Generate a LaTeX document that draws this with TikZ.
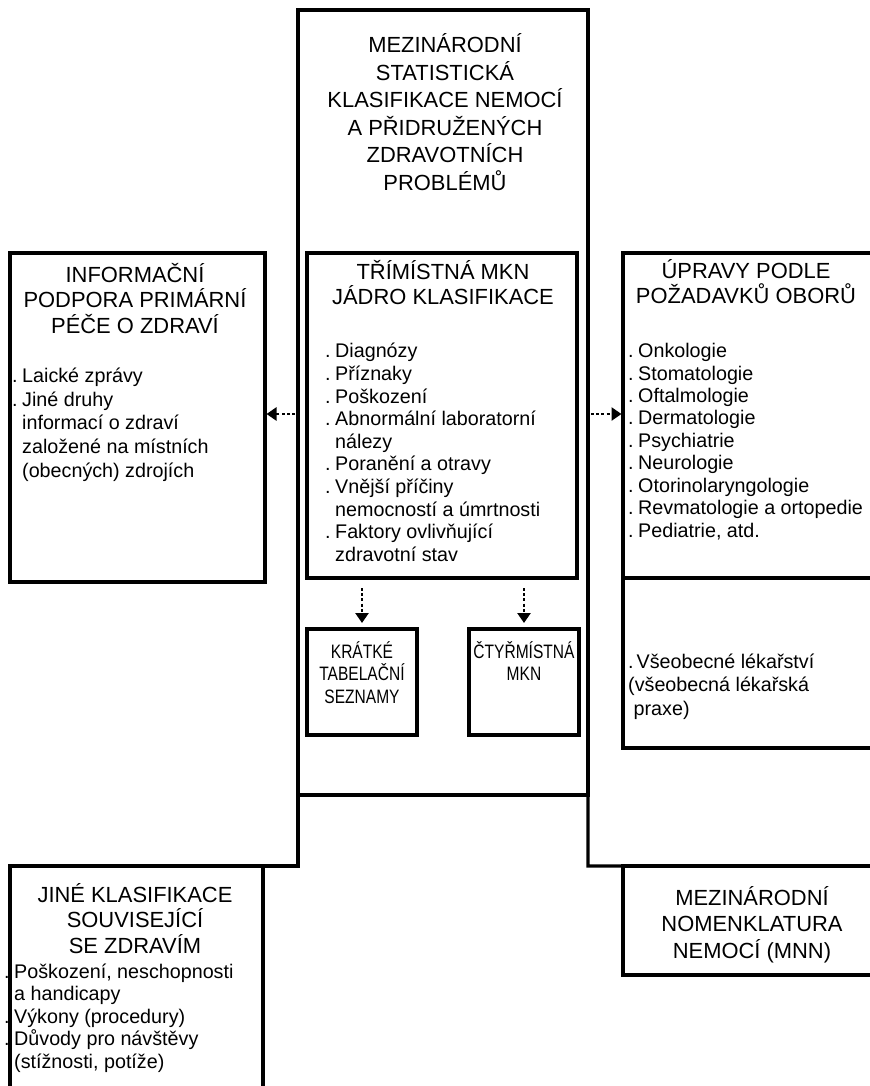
\documentclass[tikz,border=0pt]{standalone}
\usepackage{fontspec}
\setmainfont{Liberation Sans}
\newfontfamily\narrowfont[FakeStretch=0.8]{Liberation Sans}
\usetikzlibrary{arrows.meta}
\newcommand\dotitem{\llap{.\hspace{4.5bp}}}
\begin{document}
\begin{tikzpicture}[x=1bp,y=-1bp,
  box/.style={draw, line width=3.2bp, inner sep=0pt, outer sep=0pt, anchor=north west},
  rule/.style={line width=3.2bp},
  ttl/.style={font=\fontsize{22}{25.5}\selectfont, align=center, anchor=base, inner sep=0pt},
  bigttl/.style={font=\fontsize{22}{27.6}\selectfont, align=center, anchor=base, inner sep=0pt},
  lst/.style={font=\fontsize{19.8}{22.7}\selectfont, align=left, anchor=base west, inner sep=0pt},
  sml/.style={font=\narrowfont\fontsize{19.5}{22.6}\selectfont, align=center, anchor=base, inner sep=0pt},
  darr/.style={line width=2.6bp, dash pattern=on 3bp off 2.2bp, -{Triangle[length=10bp,width=13bp]}}
]
\useasboundingbox (0,0) rectangle (870,1086);
\clip (0,0) rectangle (870,1086);

% boxes
\node[box, minimum width=290bp, minimum height=785bp] (main) at (298,10) {};
\node[box, minimum width=255bp, minimum height=329bp] (info) at (10,253) {};
\node[box, minimum width=270bp, minimum height=325bp] (tri) at (307,253) {};
\node[box, minimum width=280bp, minimum height=495bp] (upr) at (623,253) {};
\node[box, minimum width=110bp, minimum height=106bp] (krat) at (307,629) {};
\node[box, minimum width=110bp, minimum height=106bp] (ctyr) at (469,629) {};
\node[box, minimum width=253bp, minimum height=250bp] (jine) at (10,866) {};
\node[box, minimum width=280bp, minimum height=109bp] (mnn) at (623,866) {};

% divider in right box
\coordinate (divl) at (623,578);
\draw[rule] (divl) -- (upr.east |- divl);

% lower connection lines
\coordinate (bl) at (298,866);
\coordinate (br) at (588,866);
\coordinate (brend) at (880,866);
\draw[rule] (main.south west) -- (bl) -- (jine.north west);
\draw[rule] (main.south east) -- (br) -- (brend);

% arrows
\coordinate (la) at (295,414);
\coordinate (ra) at (591,414);
\draw[darr, shorten >=1.5bp] (la) -- (info.east |- la);
\draw[darr, shorten >=1.5bp] (ra) -- (upr.west |- ra);
\draw[darr] ([yshift=-10bp]tri.south -| krat.north) -- ([yshift=6bp]krat.north);
\draw[darr] ([yshift=-10bp]tri.south -| ctyr.north) -- ([yshift=6bp]ctyr.north);

% texts (anchor base = baseline of the last line)
\node[bigttl] (tmain) at (445,190) {MEZINÁRODNÍ\\STATISTICKÁ\\KLASIFIKACE NEMOCÍ\\A PŘIDRUŽENÝCH\\ZDRAVOTNÍCH\\PROBLÉMŮ};

\node[ttl] (tinfo) at (135,333) {INFORMAČNÍ\\PODPORA PRIMÁRNÍ\\PÉČE O ZDRAVÍ};
\node[lst, font=\fontsize{19.8}{23.7}\selectfont] (linfo) at (22,477) {\dotitem Laické zprávy\\\dotitem Jiné druhy\\informací o zdraví\\založené na místních\\(obecných) zdrojích};

\node[ttl] (ttri) at (443,304.5) {TŘÍMÍSTNÁ MKN\\JÁDRO KLASIFIKACE};
\node[lst] (ltri) at (335,561.3) {\dotitem Diagnózy\\\dotitem Příznaky\\\dotitem Poškození\\\dotitem Abnormální laboratorní\\nálezy\\\dotitem Poranění a otravy\\\dotitem Vnější příčiny\\nemocností a úmrtnosti\\\dotitem Faktory ovlivňující\\zdravotní stav};

\node[ttl] (tupr) at (746,303.5) {ÚPRAVY PODLE\\POŽADAVKŮ OBORŮ};
\node[lst, font=\fontsize{19.8}{22.5}\selectfont] (lupr) at (638,537) {\dotitem Onkologie\\\dotitem Stomatologie\\\dotitem Oftalmologie\\\dotitem Dermatologie\\\dotitem Psychiatrie\\\dotitem Neurologie\\\dotitem Otorinolaryngologie\\\dotitem Revmatologie a ortopedie\\\dotitem Pediatrie, atd.};
\node[lst, font=\fontsize{19.8}{23.5}\selectfont] (lvse) at (628,715) {.\hspace{3bp}Všeobecné lékařství\\(všeobecná lékařská\\\ praxe)};

\node[sml] (tkrat) at (362,703.2) {KRÁTKÉ\\TABELAČNÍ\\SEZNAMY};
\node[sml] (tctyr) at (524,680.6) {ČTYŘMÍSTNÁ\\MKN};

\node[ttl] (tjine) at (135,953) {JINÉ KLASIFIKACE\\SOUVISEJÍCÍ\\SE ZDRAVÍM};
\node[lst, font=\fontsize{19.8}{22.5}\selectfont] (ljine) at (14,1068) {\dotitem Poškození, neschopnosti\\a handicapy\\\dotitem Výkony (procedury)\\\dotitem Důvody pro návštěvy\\(stížnosti, potíže)};

\node[ttl, font=\fontsize{22}{26.5}\selectfont] (tmnn) at (752,958) {MEZINÁRODNÍ\\NOMENKLATURA\\NEMOCÍ (MNN)};
\end{tikzpicture}
\end{document}
